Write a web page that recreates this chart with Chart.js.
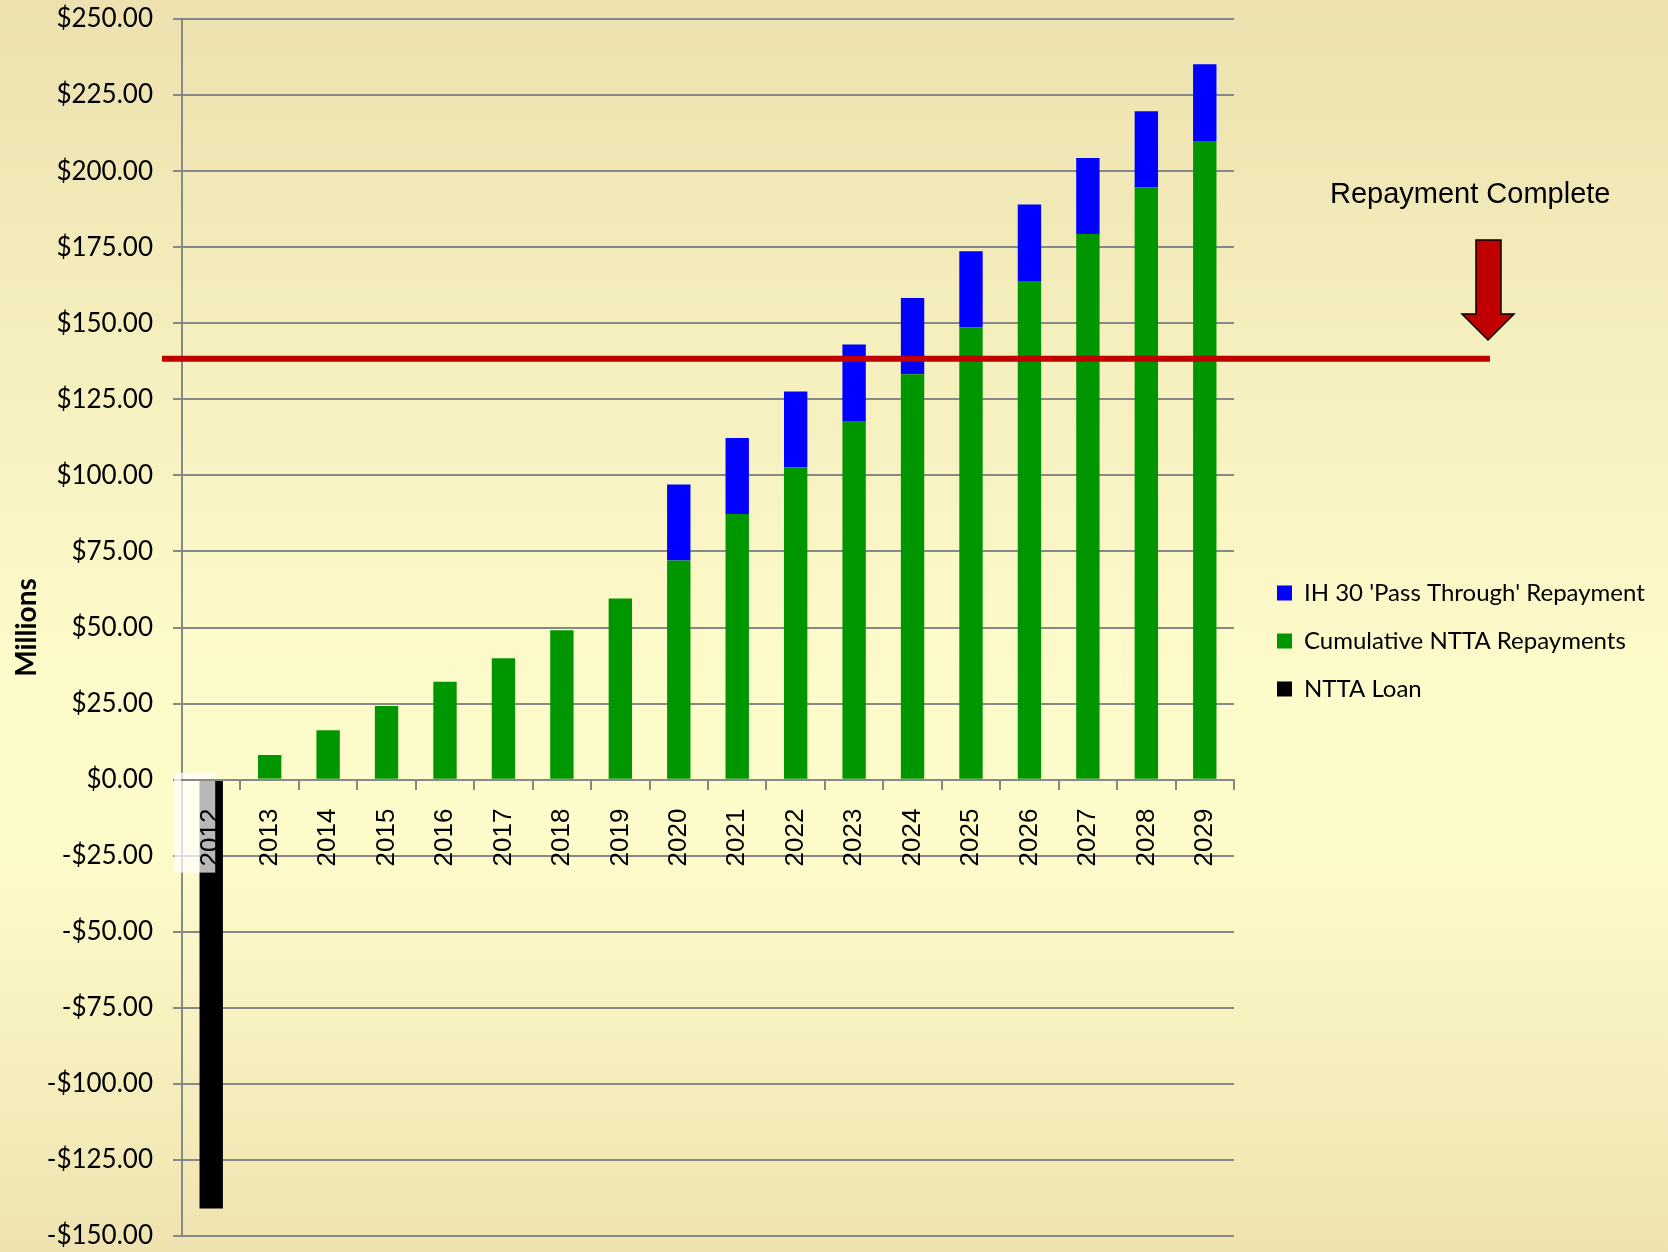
<!DOCTYPE html>
<html>
<head>
<meta charset="utf-8">
<script src="https://cdn.jsdelivr.net/npm/chart.js@4.4.1/dist/chart.umd.min.js"></script>
<style>
  html, body { margin: 0; padding: 0; background: #FDFACB; }
</style>
</head>
<body>
<canvas id="repaymentChart" width="1668" height="1252"></canvas>
<script>
// Années du graphique
const years = ["2012", "2013", "2014", "2015", "2016", "2017", "2018", "2019", "2020",
  "2021", "2022", "2023", "2024", "2025", "2026", "2027", "2028", "2029"];

// Valeurs (en millions)
const nttaLoan = [-141, null, null, null, null, null, null, null, null,
  null, null, null, null, null, null, null, null, null];
const cumulativeNtta = [null, 8.1, 16.2, 24.2, 32.2, 39.9, 49.1, 59.5, 72.0,
  87.3, 102.6, 117.9, 133.2, 148.6, 163.9, 179.3, 194.6, 209.9];
const passThrough = [null, null, null, null, null, null, null, null, 25.0,
  25.0, 25.0, 25.1, 25.1, 25.1, 25.1, 25.0, 25.1, 25.2];

const repaymentTarget = 138.3; // ligne rouge "Repayment Complete"
const yMin = -150;
const yMax = 250;
const yStep = 25;

// légende : largeur calculée pour que les carrés commencent vers x=1277
const legendFont = { family: "Lato", size: 24 };
const legendPadding = 24;
const legendBox = 15;
const legendLeft = 1253;
const measureCtx = document.createElement("canvas").getContext("2d");
measureCtx.font = legendFont.size + "px " + legendFont.family;
const longestLabel = Math.max(
  measureCtx.measureText("IH 30 'Pass Through' Repayment").width,
  measureCtx.measureText("Cumulative NTTA Repayments").width,
  measureCtx.measureText("NTTA Loan").width
);
const legendWidth = legendPadding + legendBox + legendFont.size / 2 + longestLabel + 10;
const padRight = Math.max(0, 1668 - legendLeft - legendWidth);

// fond dégradé
const backgroundPlugin = {
  id: "background",
  beforeDraw(chart) {
    const ctx = chart.ctx;
    const g = ctx.createLinearGradient(0, 0, 0, chart.height);
    g.addColorStop(0, "#ECE1AF");
    g.addColorStop(0.55, "#FEFBCB");
    g.addColorStop(0.68, "#FEFBCB");
    g.addColorStop(1, "#EEE3B0");
    ctx.save();
    ctx.fillStyle = g;
    ctx.fillRect(0, 0, chart.width, chart.height);
    ctx.restore();
  },
};

// ligne rouge + petit cadre blanc derrière "2012"
const targetLinePlugin = {
  id: "targetLine",
  afterDatasetsDraw(chart) {
    const ctx = chart.ctx;
    const y = chart.scales.y.getPixelForValue(repaymentTarget);
    ctx.save();
    ctx.strokeStyle = "#C00000";
    ctx.lineWidth = 6;
    ctx.beginPath();
    ctx.moveTo(162, y);
    ctx.lineTo(1490, y);
    ctx.stroke();

    const x0 = chart.scales.x.getPixelForValue(0);
    const y0 = chart.scales.y.getPixelForValue(0);
    ctx.fillStyle = "rgba(255, 255, 255, 0.72)";
    ctx.fillRect(x0 - 37, y0 - 7, 41, 100);
    ctx.restore();
  },
  afterDraw(chart) {
    const ctx = chart.ctx;
    ctx.save();
    ctx.fillStyle = "#000";
    ctx.font = "29px 'Liberation Sans', Arial, sans-serif";
    ctx.textAlign = "left";
    ctx.textBaseline = "alphabetic";
    ctx.fillText("Repayment Complete", 1330, 203);

    // flèche
    ctx.beginPath();
    ctx.moveTo(1476, 240);
    ctx.lineTo(1501, 240);
    ctx.lineTo(1501, 314);
    ctx.lineTo(1514, 314);
    ctx.lineTo(1488, 340);
    ctx.lineTo(1462, 314);
    ctx.lineTo(1476, 314);
    ctx.closePath();
    ctx.fillStyle = "#C00000";
    ctx.fill();
    ctx.lineWidth = 1.5;
    ctx.strokeStyle = "#000";
    ctx.stroke();
    ctx.restore();
  },
};

const data = {
  labels: years,
  datasets: [
    {
      label: "NTTA Loan",
      data: nttaLoan,
      backgroundColor: "#000000",
      borderWidth: 0,
      stack: "s",
    },
    {
      label: "Cumulative NTTA Repayments",
      data: cumulativeNtta,
      backgroundColor: "#009600",
      borderWidth: 0,
      stack: "s",
    },
    {
      label: "IH 30 'Pass Through' Repayment",
      data: passThrough,
      backgroundColor: "#0000FF",
      borderWidth: 0,
      stack: "s",
    },
  ],
};

const config = {
  type: "bar",
  data: data,
  options: {
    responsive: false,
    animation: false,
    barPercentage: 0.4,
    categoryPercentage: 1.0,
    layout: {
      autoPadding: false,
      padding: { top: 19, bottom: 16, left: 0, right: padRight },
    },
    plugins: {
      tooltip: { enabled: false },
      legend: {
        position: "right",
        align: "center",
        reverse: true,
        maxWidth: 700,
        title: { display: true, text: " ", padding: 0, font: { size: 27, lineHeight: 1 } },
        labels: {
          boxWidth: legendBox,
          boxHeight: legendBox,
          padding: legendPadding,
          color: "#000",
          font: legendFont,
        },
      },
    },
    scales: {
      x: {
        position: { y: 0 },
        stacked: true,
        afterFit(scale) {
          scale.paddingLeft = 0;
          scale.paddingRight = 0;
        },
        grid: {
          display: true,
          drawOnChartArea: false,
          drawTicks: true,
          tickLength: 9,
          color: "#888888",
          lineWidth: 2,
          offset: true,
        },
        border: { display: true, color: "#888888", width: 2, z: 1 },
        ticks: {
          z: 1,
          minRotation: 90,
          maxRotation: 90,
          autoSkip: false,
          padding: 20,
          color: "#000",
          font: { family: "'Liberation Sans', Arial", size: 26 },
        },
      },
      y: {
        stacked: true,
        min: yMin,
        max: yMax,
        afterFit(scale) {
          scale.width = 182;
          scale.paddingTop = 0;
          scale.paddingBottom = 0;
        },
        ticks: {
          stepSize: yStep,
          padding: 20,
          color: "#000",
          font: { family: "Lato", size: 26 },
          callback: (v) => (v < 0 ? "-$" + Math.abs(v).toFixed(2) : "$" + v.toFixed(2)),
        },
        grid: {
          color: "#888888",
          lineWidth: 2,
          tickLength: 9,
        },
        border: { display: true, color: "#888888", width: 2 },
        title: {
          display: true,
          text: "Millions",
          color: "#000",
          padding: { top: 10, bottom: 0 },
          font: { family: "Lato", size: 28, weight: "bold" },
        },
      },
      y2: {
        position: "right",
        min: 0,
        max: 1,
        afterFit(scale) {
          const lg = scale.chart.legend;
          scale.width = Math.max(0, scale.chart.width - padRight - (lg ? lg.width : 0) - 1234);
          scale.paddingTop = 0;
          scale.paddingBottom = 0;
        },
        grid: { display: false },
        border: { display: false },
        ticks: { display: false },
      },
    },
  },
  plugins: [backgroundPlugin, targetLinePlugin],
};

const myChart = new Chart(document.getElementById("repaymentChart"), config);
</script>
</body>
</html>
